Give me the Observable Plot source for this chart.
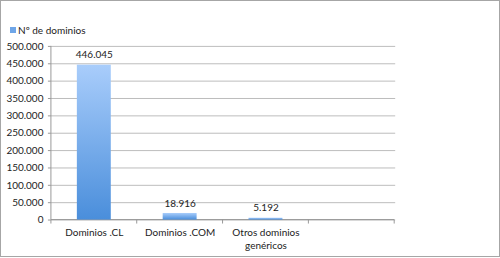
<!DOCTYPE html>
<html>
<head>
<meta charset="utf-8">
<script src="https://cdn.jsdelivr.net/npm/d3@7"></script>
<script src="https://cdn.jsdelivr.net/npm/@observablehq/plot@0.6"></script>
<style>
  html, body { margin: 0; padding: 0; background: #fff; }
  #wrap { position: relative; width: 500px; height: 257px; box-sizing: border-box; border: 1px solid #a6a6a6; font-family: Lato, "Liberation Sans", sans-serif; overflow: hidden; }
  #chart { position: absolute; left: -1px; top: -1px; }
  #legend { position: absolute; left: 9px; top: 23px; font-size: 10px; color: #222; display: flex; align-items: center; }
  #legend .sw { width: 6px; height: 6px; background: #6fa6e8; margin-right: 2px; }
</style>
</head>
<body>
<div id="wrap">
  <div id="chart"></div>
  <div id="legend"><span class="sw"></span><span>Nº de dominios</span></div>
</div>
<script>
const categories = ["Dominios .CL", "Dominios .COM", "Otros dominios\ngenéricos", ""];
const values = [446045, 18916, 5192, null];
const yTicks = [0, 50000, 100000, 150000, 200000, 250000, 300000, 350000, 400000, 450000, 500000];
const seriesName = "Nº de dominios";

const es = d3.formatLocale({decimal: ",", thousands: ".", grouping: [3], currency: ["", "€"]});
const fmt = es.format(",d");

const data = categories.map((c, i) => ({cat: c, value: values[i]})).filter(d => d.value != null);

const ns = "http://www.w3.org/2000/svg";

const chart = Plot.plot({
  width: 500,
  height: 258,
  marginLeft: 51,
  marginRight: 104,
  marginTop: 46,
  marginBottom: 38,
  style: {fontFamily: "Lato, 'Liberation Sans', sans-serif", fontSize: "10px", color: "#222", background: "transparent"},
  x: {domain: categories, paddingInner: 0.6, paddingOuter: 0.3, label: null, axis: null},
  y: {domain: [0, 500000], label: null, axis: null},
  marks: [
    () => {
      const defs = document.createElementNS(ns, "defs");
      defs.innerHTML = `<linearGradient id="barGrad" x1="0" y1="0" x2="0" y2="1">
        <stop offset="0" stop-color="#a9cdfb"/>
        <stop offset="1" stop-color="#4a8edb"/>
      </linearGradient>`;
      return defs;
    },
    Plot.gridY(yTicks, {stroke: "#bdbdbd", strokeOpacity: 1, strokeWidth: 1}),
    Plot.axisY(yTicks, {tickFormat: fmt, tickSize: 3, stroke: "#999", tickPadding: 5, fontSize: 10}),
    // axis lines and category boundary ticks, placed from the band scale
    (index, scales, values, dim) => {
      const g = document.createElementNS(ns, "g");
      const x = scales.x, y = scales.y;
      const step = x(categories[1]) - x(categories[0]);
      const bw = x.bandwidth ? x.bandwidth() : step * 0.4;
      const off = (step - bw) / 2;
      const y0 = y(0), yTop = y(500000);
      const bounds = categories.map(c => x(c) - off);
      bounds.push(x(categories[categories.length - 1]) - off + step);
      const left = bounds[0], right = bounds[bounds.length - 1];
      let html = `<line x1="${left}" x2="${left}" y1="${yTop}" y2="${y0}" stroke="#999"/>`;
      html += `<line x1="${left}" x2="${right}" y1="${y0}" y2="${y0}" stroke="#999"/>`;
      for (const b of bounds) html += `<line x1="${b}" x2="${b}" y1="${y0}" y2="${y0 + 4}" stroke="#999"/>`;
      g.innerHTML = html;
      return g;
    },
    Plot.barY(data, {x: "cat", y: "value", fill: "url(#barGrad)"}),
    Plot.text(data, {x: "cat", y: "value", text: d => fmt(d.value), dy: -10, fontSize: 10, fill: "#222"}),
    Plot.axisX({tickSize: 0, tickPadding: 7, fontSize: 10, lineHeight: 1.3})
  ]
});
document.getElementById("chart").appendChild(chart);
</script>
</body>
</html>
